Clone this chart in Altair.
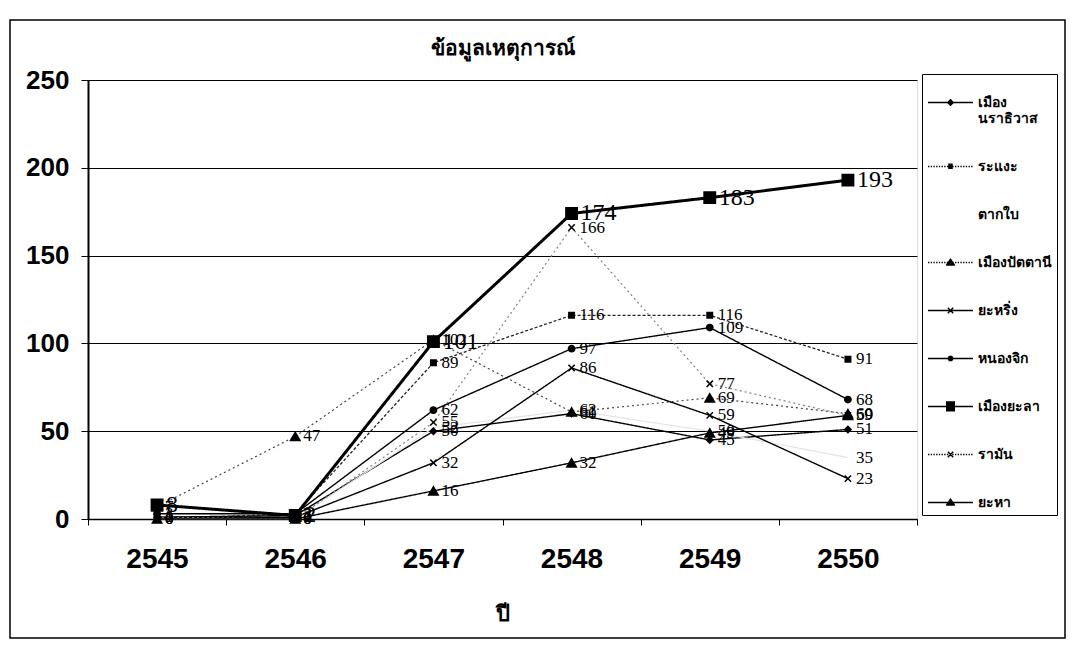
import math
import altair as alt
import pandas as pd

years = [2545, 2546, 2547, 2548, 2549, 2550]
series = ["เมือง นราธิวาส", "ระแงะ", "ตากใบ", "เมืองปัตตานี", "ยะหริ่ง",
          "หนองจิก", "เมืองยะลา", "รามัน", "ยะหา"]

narathiwat = [1, 2, 50, 60, 45, 51]
rangae = [0, 3, 89, 116, 116, 91]
takbai = [0, 0, 52, 62, 50, 35]
pattani = [7, 47, 102, 61, 69, 60]
yaring = [1, 1, 32, 86, 59, 23]
nongchik = [3, 3, 62, 97, 109, 68]
yala = [8, 2, 101, 174, 183, 193]
raman = [1, 0, 55, 166, 77, 59]
yaha = [0, 0, 16, 32, 49, 59]

values = [narathiwat, rangae, takbai, pattani, yaring, nongchik, yala, raman, yaha]

rows = []
for s, vals in zip(series, values):
    for y, v in zip(years, vals):
        rows.append({"series": s, "year": y, "value": v})
df = pd.DataFrame(rows)

# line style per series: (color, width, dash)
line_style = {
    "เมือง นราธิวาส": ("#000000", 1.4, [1, 0]),
    "ระแงะ": ("#222222", 1.3, [3, 2]),
    "ตากใบ": ("#e4e4e4", 1.2, [1, 0]),
    "เมืองปัตตานี": ("#444444", 1.2, [2, 3]),
    "ยะหริ่ง": ("#000000", 1.4, [1, 0]),
    "หนองจิก": ("#000000", 1.4, [1, 0]),
    "เมืองยะลา": ("#000000", 3.0, [1, 0]),
    "รามัน": ("#808080", 1.2, [2, 3]),
    "ยะหา": ("#000000", 1.4, [1, 0]),
}
XPATH = "M-1,-1L1,1M-1,1L1,-1"
# marker per series: (shape, size) ; ตากใบ has none
marker_style = {
    "เมือง นราธิวาส": ("diamond", 40),
    "ระแงะ": ("square", 30),
    "เมืองปัตตานี": ("triangle-up", 90),
    "ยะหริ่ง": (XPATH, 40),
    "หนองจิก": ("circle", 40),
    "เมืองยะลา": ("square", 130),
    "รามัน": (XPATH, 40),
    "ยะหา": ("triangle-up", 90),
}

# ---- legend symbols: line + solid marker, drawn as strokes in one path ----
def dotted():
    segs = []
    x = -1.0
    while x < 1.0:
        segs.append("M%.2f,0H%.2f" % (x, min(x + 0.06, 1.0)))
        x += 0.12
    return "".join(segs)

def hatch(halfwidth, y0, y1, step=0.03):
    out = []
    y = y0
    while y <= y1 + 1e-9:
        w = halfwidth(y)
        if w > 0:
            out.append("M%.3f,%.3fH%.3f" % (-w, y, w))
        y += step
    return "".join(out)

def sq(a):
    return hatch(lambda y: a, -a, a)

def diamond(r):
    return hatch(lambda y: r - abs(y), -r, r)

def tri(t, b, w):
    return hatch(lambda y: w * (y + t) / (b + t), -t, b)

def circ(r):
    return hatch(lambda y: math.sqrt(max(r * r - y * y, 0)), -r, r)

def xmark(a):
    return "M%.2f,%.2fL%.2f,%.2fM%.2f,%.2fL%.2f,%.2f" % (-a, -a, a, a, -a, a, a, -a)

SOLID = "M-1,0H1"
DOT = dotted()
leg_paths = [
    SOLID + diamond(0.15),
    DOT + sq(0.1),
    "M0,0Z",
    DOT + tri(0.19, 0.13, 0.21),
    SOLID + xmark(0.12),
    SOLID + circ(0.12),
    SOLID + sq(0.2),
    DOT + xmark(0.12),
    SOLID + tri(0.19, 0.13, 0.21),
]

x_enc = alt.X("year:Q",
              scale=alt.Scale(domain=[2544.5, 2550.5], nice=False, zero=False),
              axis=alt.Axis(values=[2544.5, 2545.5, 2546.5, 2547.5, 2548.5, 2549.5, 2550.5],
                            labelExpr="datum.value < 2550 ? format(datum.value + 0.5, 'd') : ''",
                            labelOffset=69, labelOverlap=False, labelBound=False, labelFlush=False,
                            grid=False, tickSize=6, tickColor="black", domainColor="black",
                            domainWidth=1.5, labelFont="Liberation Sans", labelFontWeight="bold",
                            labelFontSize=28, labelPadding=20, labelColor="black",
                            title="ปี", titleFontSize=22, titleFontWeight="bold",
                            titleFont="Noto Sans", titlePadding=30, titleColor="black"))
y_enc = alt.Y("value:Q",
              scale=alt.Scale(domain=[0, 250], nice=False),
              axis=alt.Axis(values=[0, 50, 100, 150, 200, 250], grid=True, gridColor="black",
                            gridWidth=1, tickSize=7, tickColor="black", domainColor="black",
                            domainWidth=2, labelFont="Liberation Sans", labelFontWeight="bold",
                            labelFontSize=26, labelPadding=12, labelColor="black", title=None))

base = alt.Chart(df)
layers = []

frame_df = pd.DataFrame({"k": [0]})
layers.append(alt.Chart(frame_df).mark_rect(fill=None, stroke="black", strokeWidth=1.5).encode(
    x=alt.value(-78), x2=alt.value(977), y=alt.value(-60), y2=alt.value(558)))

first = True
for s in series:
    col, w, dash = line_style[s]
    layers.append(base.transform_filter(alt.datum.series == s).mark_line(
        color=col, strokeWidth=w, strokeDash=dash).encode(
        x=x_enc if first else "year:Q", y=y_enc if first else "value:Q"))
    first = False

for s in series:
    if s not in marker_style:
        continue
    shp, sz = marker_style[s]
    layers.append(base.transform_filter(alt.datum.series == s).mark_point(
        shape=shp, size=sz, filled=True, fill="black", stroke="black", strokeWidth=1.5,
        opacity=1).encode(x="year:Q", y="value:Q"))

layers.append(base.transform_filter(alt.datum.series != "เมืองยะลา").mark_text(
    align="left", baseline="middle", dx=8, font="Liberation Serif", fontSize=17, color="black"
).encode(x="year:Q", y="value:Q", text="value:Q"))

layers.append(base.transform_filter(alt.datum.series == "เมืองยะลา").mark_text(
    align="left", baseline="middle", dx=9, font="Liberation Serif", fontSize=24, color="black"
).encode(x="year:Q", y="value:Q", text="value:Q"))

layers.append(base.transform_filter("false").mark_point(
    filled=False, color="black", strokeWidth=1.4, opacity=1).encode(
    x="year:Q", y="value:Q",
    shape=alt.Shape("series:N", scale=alt.Scale(domain=series, range=leg_paths),
                    legend=alt.Legend(title=None, orient="none", legendX=834, legendY=-6,
                                      symbolSize=2025, symbolStrokeColor="black",
                                      symbolStrokeWidth=1.4, symbolOpacity=1,
                                      labelFont="Noto Sans", labelFontSize=14,
                                      labelFontWeight="bold", labelColor="black", labelOffset=4,
                                      labelLimit=200, rowPadding=17, padding=5,
                                      strokeColor="black", fillColor="white",
                                      labelExpr="datum.label == 'เมือง นราธิวาส' ? ['เมือง', 'นราธิวาส'] : datum.label")),
))

chart = alt.layer(*layers).properties(
    width=829, height=439,
    title=alt.TitleParams("ข้อมูลเหตุการณ์", font="Noto Sans", fontSize=21, fontWeight="bold",
                          color="black", offset=-40, anchor="middle", frame="group"),
    autosize=alt.AutoSizeParams(type="none"),
    padding={"left": 80, "top": 72, "right": 150, "bottom": 120},
).configure_view(stroke="#888888", strokeWidth=1.5).configure(background="white")

chart.save("out.html", embed_options={"renderer": "svg", "actions": False})
